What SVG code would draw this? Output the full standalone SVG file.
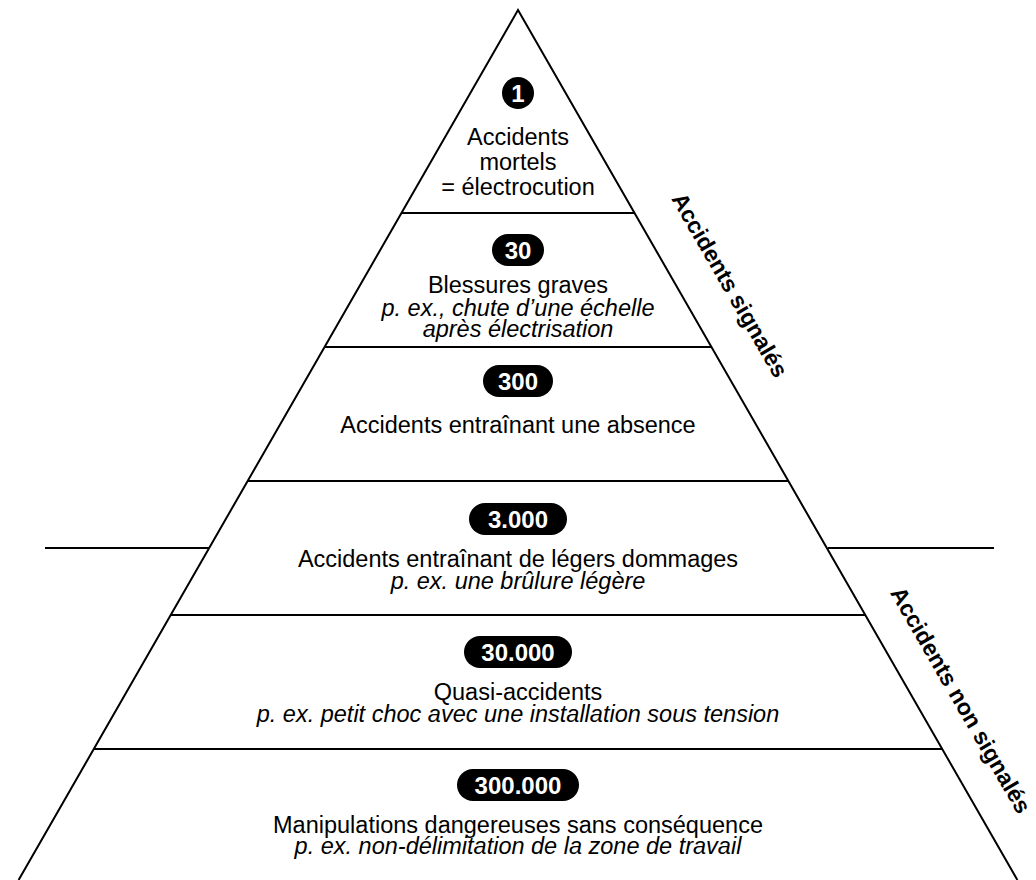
<svg xmlns="http://www.w3.org/2000/svg" width="1036" height="880" viewBox="0 0 1036 880">
<style>
.ln{stroke:#000;stroke-width:2;fill:none}
.t{font-family:"Liberation Sans",Arial,sans-serif;font-size:23.5px;fill:#000;text-anchor:middle}
.i{font-style:italic}
.b{font-family:"Liberation Sans",Arial,sans-serif;font-size:24px;font-weight:bold;fill:#fff;text-anchor:middle}
.side{font-family:"Liberation Sans",Arial,sans-serif;font-size:23px;font-weight:bold;fill:#000;text-anchor:middle}
.pill{fill:#000}
</style>
<rect width="1036" height="880" fill="#fff"/>
<g id="connectors">
<path class="ln" d="M18.6,880 L518,10 L1017.4,880"/>
<line class="ln" x1="401.5" y1="213" x2="634.5" y2="213"/>
<line class="ln" x1="324.6" y1="347" x2="711.4" y2="347"/>
<line class="ln" x1="247.6" y1="481" x2="788.4" y2="481"/>
<line class="ln" x1="170.7" y1="615" x2="865.3" y2="615"/>
<line class="ln" x1="93.8" y1="749" x2="942.2" y2="749"/>
<line class="ln" x1="45" y1="548" x2="209" y2="548"/>
<line class="ln" x1="828" y1="548" x2="994" y2="548"/>
</g>
<g id="tier1">
<circle class="pill" cx="518" cy="93" r="16"/>
<text class="b" x="518" y="101.5">1</text>
<text class="t" x="518" y="145">Accidents</text>
<text class="t" x="518" y="170">mortels</text>
<text class="t" x="518" y="195">= électrocution</text>
</g>
<g id="tier2">
<rect class="pill" x="492" y="234" width="52" height="32" rx="16"/>
<text class="b" x="518" y="258.5">30</text>
<text class="t" x="518" y="293">Blessures graves</text>
<text class="t i" x="518" y="316">p. ex., chute d’une échelle</text>
<text class="t i" x="518" y="337">après électrisation</text>
</g>
<g id="tier3">
<rect class="pill" x="483" y="365" width="70" height="32" rx="16"/>
<text class="b" x="518" y="389.5">300</text>
<text class="t" x="518" y="433">Accidents entraînant une absence</text>
</g>
<g id="tier4">
<rect class="pill" x="469" y="503" width="98" height="32" rx="16"/>
<text class="b" x="518" y="527.5">3.000</text>
<text class="t" x="518" y="567">Accidents entraînant de légers dommages</text>
<text class="t i" x="518" y="589">p. ex. une brûlure légère</text>
</g>
<g id="tier5">
<rect class="pill" x="464" y="636" width="108" height="32" rx="16"/>
<text class="b" x="518" y="660.5">30.000</text>
<text class="t" x="518" y="700">Quasi-accidents</text>
<text class="t i" x="518" y="722">p. ex. petit choc avec une installation sous tension</text>
</g>
<g id="tier6">
<rect class="pill" x="457" y="769" width="122" height="32" rx="16"/>
<text class="b" x="518" y="793.5">300.000</text>
<text class="t" x="518" y="833">Manipulations dangereuses sans conséquence</text>
<text class="t i" x="518" y="854">p. ex. non-délimitation de la zone de travail</text>
</g>
<g id="label-signales">
<text class="side" transform="translate(723,289) rotate(60)">Accidents signalés</text>
</g>
<g id="label-non-signales">
<text class="side" transform="translate(954,704) rotate(60)">Accidents non signalés</text>
</g>
</svg>
